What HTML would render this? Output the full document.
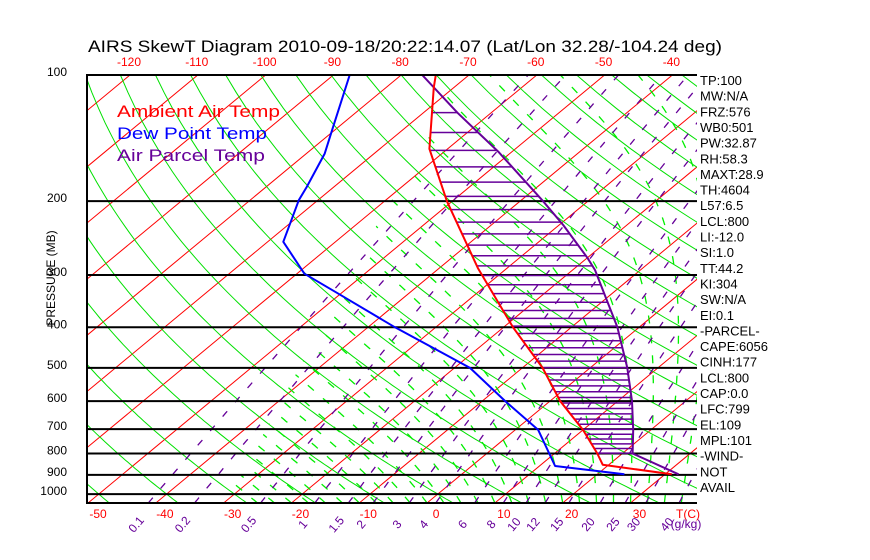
<!DOCTYPE html>
<html><head><meta charset="utf-8"><style>
html,body{margin:0;padding:0;background:#fff;}
svg{display:block;font-family:"Liberation Sans",sans-serif;}
</style></head><body>
<svg id="chart" width="870" height="560" viewBox="0 0 870 560" xmlns="http://www.w3.org/2000/svg">
<defs>
<clipPath id="plotclip"><rect x="87" y="75" width="610" height="428"/></clipPath>
<clipPath id="moistclip"><polygon points="226,503 697,503 697,75 458,75"/></clipPath>
</defs>
<rect x="0" y="0" width="870" height="560" fill="#fff"/>
<text x="88" y="52" font-size="17" textLength="634" lengthAdjust="spacingAndGlyphs" fill="#000">AIRS SkewT Diagram 2010-09-18/20:22:14.07 (Lat/Lon 32.28/-104.24 deg)</text>
<g id="grid" clip-path="url(#plotclip)"></g>
<g id="moist" clip-path="url(#moistclip)"></g>
<g id="mix" clip-path="url(#plotclip)"></g>
<g id="plines" clip-path="url(#plotclip)"></g>
<g id="profiles" clip-path="url(#plotclip)"></g>
<g id="axes"></g>
<g>
<text x="117" y="117" font-size="17" fill="#ff0000" textLength="163" lengthAdjust="spacingAndGlyphs">Ambient Air Temp</text>
<text x="117" y="139" font-size="17" fill="#0000ff" textLength="150" lengthAdjust="spacingAndGlyphs">Dew Point Temp</text>
<text x="117" y="161" font-size="17" fill="#660099" textLength="148" lengthAdjust="spacingAndGlyphs">Air Parcel Temp</text>
</g>
<text transform="translate(55,278) rotate(-90)" text-anchor="middle" font-size="12" fill="#000">PRESSURE (MB)</text>
<g id="stats" font-size="13" fill="#000"></g>
</svg>
<script>
// ---- data ----
const envP = [100,107,150,200,289,400,500,600,703,800,851,897];
const envT = [-74.9,-73,-62.7,-50.8,-34.3,-18.6,-7.0,1.5,10.0,16.3,19.1,31.0];
const dewP = [100,133,154,185,199,250,298,331,400,500,600,703,857,897];
const dewT = [-87.6,-80.8,-77.3,-74,-72.8,-67.7,-58.9,-50.7,-36,-17.7,-6.6,3.4,12.3,24];
const parP = [100,123,153,199,228,273,292,400,500,600,703,800,897];
const parT = [-76.9,-65,-51.8,-36.9,-29.4,-20,-16.7,-3.2,5.5,12.1,17.4,21.5,32.0];
const pressureTicks = [100,200,300,400,500,600,700,800,900,1000];
const bottomTempTicks = [-50,-40,-30,-20,-10,0,10,20,30];
const topTempTicks = [-120,-110,-100,-90,-80,-70,-60,-50,-40];
const mixRatios = [0.1,0.2,0.5,1,1.5,2,3,4,6,8,10,12,15,20,25,30,40];
const mixLabels = ["0.1","0.2","0.5","1","1.5","2","3","4","6","8","10","12","15","20","25","30","40"];
const statLabels = ["TP:100","MW:N/A","FRZ:576","WB0:501","PW:32.87","RH:58.3","MAXT:28.9","TH:4604","L57:6.5","LCL:800","LI:-12.0","SI:1.0","TT:44.2","KI:304","SW:N/A","EI:0.1","-PARCEL-","CAPE:6056","CINH:177","LCL:800","CAP:0.0","LFC:799","EL:109","MPL:101","-WIND-","NOT","AVAIL"];

// ---- axes functions ----
const NS="http://www.w3.org/2000/svg";
function yP(p){return 75+182*Math.log(p/100);}
function xT(T,p){return 427+6.78*T+(503-yP(p))*1.207;}
function interp(P,V,p){
  if(p<=P[0])return V[0];
  for(let i=1;i<P.length;i++){if(p<=P[i]){const a=Math.log(P[i-1]),b=Math.log(P[i]),t=(Math.log(p)-a)/(b-a);return V[i-1]+t*(V[i]-V[i-1]);}}
  return V[V.length-1];
}
function mk(tag,parent,attrs){const e=document.createElementNS(NS,tag);for(const k in attrs)e.setAttribute(k,attrs[k]);parent.appendChild(e);return e;}
function ptsStr(arr){return arr.map(a=>a[0].toFixed(1)+","+a[1].toFixed(1)).join(" ");}
const grid=document.getElementById('grid'),moist=document.getElementById('moist'),mix=document.getElementById('mix'),plines=document.getElementById('plines'),prof=document.getElementById('profiles'),axes=document.getElementById('axes'),stats=document.getElementById('stats');

// isotherms
for(let T=-160;T<=50;T+=10){
  const l=mk('line',grid,{x1:xT(T,1050),y1:yP(1050),x2:xT(T,100),y2:yP(100),stroke:'#ff0000','stroke-width':1});
  
  
}
// dry adiabats
for(let k=-12;k<=22;k++){
  const th=273.15+10*k;const pts=[];
  for(let p=1050;p>=100;p-=10){pts.push([xT(th*Math.pow(p/1000,0.286)-273.15,p),yP(p)]);}
  const l=mk('polyline',grid,{points:ptsStr(pts),fill:'none',stroke:'#00e000','stroke-width':1});
  
  
}
// moist adiabats
for(let T0=-25;T0<=45;T0+=2.5){
  let T=T0+273.15;const pts=[];
  for(let p=1050;p>=100;p-=5){
    pts.push([xT(T-273.15,p),yP(p)]);
    const es=6.112*Math.exp(17.67*(T-273.15)/(T-29.65));const rs=0.622*es/Math.max(p-es,1);
    const num=287*T+2.5e6*rs;const den=1004+2.5e6*2.5e6*rs*0.622/(287*T*T);
    T-=num/(p*den)*5;
  }
  const l=mk('polyline',moist,{points:ptsStr(pts),fill:'none',stroke:'#00ee00','stroke-width':1.3,'stroke-dasharray':'8 12'});
  
  
}
// mixing ratio lines
function tdFromW(w,p){const e=w*p/(622+w);const L=Math.log(e/6.112);return 243.5*L/(17.67-L);}
mixRatios.forEach((w,i)=>{
  const pts=[];for(let p=1050;p>=100;p-=10){pts.push([xT(tdFromW(w,p),p),yP(p)]);}
  const l=mk('polyline',mix,{points:ptsStr(pts),fill:'none',stroke:'#660099','stroke-width':1.3,'stroke-dasharray':'7 12'});
  
  
  const x=xT(tdFromW(w,1050),1050)-9;
  const t=mk('text',axes,{x:0,y:0,transform:`translate(${x.toFixed(1)},527) rotate(-50)`,'text-anchor':'middle','font-size':12,fill:'#660099'});
  t.textContent=mixLabels[i];
  
  
});
// pressure lines
pressureTicks.forEach(p=>{
  const l=mk('line',plines,{x1:87,y1:yP(p),x2:697,y2:yP(p),stroke:'#000','stroke-width':2});
  
  
  const t=mk('text',axes,{x:67,y:yP(p)+1,'text-anchor':'end','font-size':12,fill:'#000'});
  t.textContent=String(p);
  
  
});
// hatching between env and parcel
for(let p=123;p<=800;p+=13+0.009*p){
  const te=interp(envP,envT,p),tp=interp(parP,parT,p);
  if(tp>te){
    const l=mk('line',prof,{x1:xT(te,p),y1:yP(p),x2:xT(tp,p),y2:yP(p),stroke:'#660099','stroke-width':1.5});
    
    
  }
}
// profiles
function profile(P,V,color,name){
  const pts=P.map((p,i)=>[xT(V[i],p),yP(p)]);
  const l=mk('polyline',prof,{points:ptsStr(pts),fill:'none',stroke:color,'stroke-width':2,'stroke-linejoin':'round'});
  
  
}
profile(parP,parT,'#660099','air-parcel-temp-line');
profile(dewP,dewT,'#0000ff','dew-point-temp-line');
profile(envP,envT,'#ff0000','ambient-air-temp-line');
// frame
const fl=mk('line',axes,{x1:87,y1:74,x2:87,y2:504,stroke:'#000','stroke-width':2});


const ft=mk('line',axes,{x1:87,y1:75,x2:697,y2:75,stroke:'#000','stroke-width':2});


const fb=mk('line',axes,{x1:87,y1:503,x2:697,y2:503,stroke:'#000','stroke-width':2});


// temp tick labels
bottomTempTicks.forEach(T=>{
  const x=T===-50?98:xT(T,1050)+9;
  const t=mk('text',axes,{x:x,y:518,'text-anchor':'middle','font-size':12,fill:'#ff0000'});
  t.textContent=String(T);
  
  
});
const tc=mk('text',axes,{x:688,y:518,'text-anchor':'middle','font-size':12,fill:'#ff0000'});
tc.textContent='T(C)';


const gk=mk('text',axes,{x:686,y:528,'text-anchor':'middle','font-size':12,fill:'#660099'});
gk.textContent='(g/kg)';


topTempTicks.forEach(T=>{
  const t=mk('text',axes,{x:xT(T,100)-1,y:66,'text-anchor':'middle','font-size':12,fill:'#ff0000'});
  t.textContent=String(T);
  
  
});
// stats
statLabels.forEach((s,i)=>{
  const t=mk('text',stats,{x:700,y:85+i*15.65});
  t.textContent=s;
  
  
});
</script>
</body></html>
